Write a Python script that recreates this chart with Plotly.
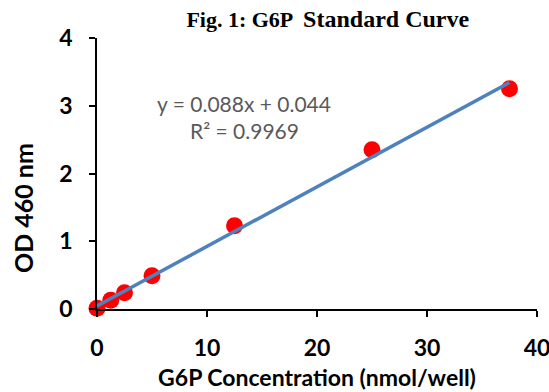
import plotly.graph_objects as go

# Data
conc = [0, 1.25, 2.5, 5, 12.5, 25, 37.5]
od = [0.01, 0.13, 0.24, 0.49, 1.23, 2.35, 3.25]
slope = 0.088
intercept = 0.044
r2 = 0.9969
fit_x = [0, 37.5]
fit_y = [slope * v + intercept for v in fit_x]
x_ticks = [0, 10, 20, 30, 40]
y_ticks = [0, 1, 2, 3, 4]

tick_font = dict(family="Lato", size=23, color="black")

fig = go.Figure()
fig.add_trace(go.Scatter(
    x=conc, y=od, mode="markers",
    marker=dict(color="#FF0000", size=17, line=dict(width=0)),
    cliponaxis=False, showlegend=False,
))
fig.add_trace(go.Scatter(
    x=fit_x, y=fit_y, mode="lines",
    line=dict(color="#4F81BD", width=3.5),
    cliponaxis=False, showlegend=False,
))

fig.update_layout(
    width=549, height=392,
    margin=dict(l=97, r=12, t=38, b=83),
    paper_bgcolor="white", plot_bgcolor="white",
    title=dict(
        text="<b>Fig. 1: G6P  <span style='font-size:24px'>Standard Curve</span></b>",
        font=dict(family="Liberation Serif", size=22, color="black"),
        x=0.597, xanchor="center", y=0.95, yanchor="middle",
    ),
    xaxis=dict(
        range=[0, 40], tickvals=x_ticks, ticktext=[f"<b>{v}</b>" for v in x_ticks],
        showline=True, linecolor="black", linewidth=1.5,
        ticks="outside", ticklen=6, tickcolor="black", tickwidth=1.5,
        showgrid=False, zeroline=False, tickfont=tick_font,
        ticklabelstandoff=12, automargin=False, ticklabeloverflow="allow",
        title=dict(text="<b>G6P Concentration (nmol/well)</b>",
                   font=dict(family="Lato", size=23, color="black"), standoff=10),
    ),
    yaxis=dict(
        range=[0, 4], tickvals=y_ticks, ticktext=[f"<b>{v}</b>" for v in y_ticks],
        showline=True, linecolor="black", linewidth=1.5,
        ticks="outside", ticklen=6, tickcolor="black", tickwidth=1.5,
        showgrid=False, zeroline=False, tickfont=tick_font,
        ticklabelstandoff=12, automargin=False, ticklabeloverflow="allow",
    ),
)
fig.add_annotation(text="<b>OD 460 nm</b>", textangle=-90,
                   x=(23 - 97) / 440, y=(309 - 208) / 271, xref="paper", yref="paper",
                   xanchor="center", yanchor="middle",
                   showarrow=False, font=dict(family="Lato", size=25, color="black"))
fig.add_annotation(text=f"y = {slope}x + {intercept}", x=13.4, y=3.04,
                   xref="x", yref="y", showarrow=False,
                   font=dict(family="Lato", size=21, color="#595959"))
fig.add_annotation(text=f"R² = {r2}", x=13.4, y=2.63,
                   xref="x", yref="y", showarrow=False,
                   font=dict(family="Lato", size=21, color="#595959"))

fig.write_html("out.html", post_script="document.body.style.margin='0';",
               config={"displayModeBar": False})
